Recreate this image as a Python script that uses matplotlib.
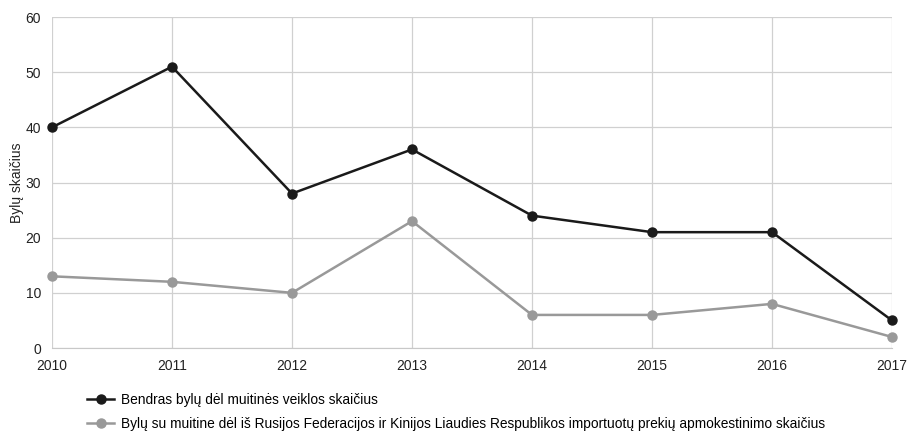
import matplotlib.pyplot as plt

plt.rcParams['font.family'] = ['Liberation Sans', 'DejaVu Sans']

years = [2010, 2011, 2012, 2013, 2014, 2015, 2016, 2017]
total_cases = [40, 51, 28, 36, 24, 21, 21, 5]
import_cases = [13, 12, 10, 23, 6, 6, 8, 2]

label_total = 'Bendras bylų dėl muitinės veiklos skaičius'
label_import = ('Bylų su muitine dėl iš Rusijos Federacijos ir Kinijos Liaudies '
                'Respublikos importuotų prekių apmokestinimo skaičius')

fig = plt.figure(figsize=(9.09, 4.32), dpi=100)
ax = fig.add_axes([0.0572, 0.1944, 0.9241, 0.7662])

ax.plot(years, total_cases, color='#1a1a1a', lw=1.8, marker='o', ms=6.5,
        label=label_total, clip_on=False, zorder=3)
ax.plot(years, import_cases, color='#999999', lw=1.8, marker='o', ms=6.5,
        label=label_import, clip_on=False, zorder=3)

ax.set_xlim(2010, 2017)
ax.set_ylim(0, 60)
ax.set_xticks(years)
ax.set_yticks(range(0, 61, 10))
ax.grid(True, color='#d0d0d0', lw=0.9)
ax.set_axisbelow(True)
for s in ['top', 'right', 'left']:
    ax.spines[s].set_visible(False)
ax.spines['bottom'].set_color('#c8c8c8')
ax.tick_params(length=0, labelsize=10, colors='#222222')
ax.tick_params(axis='x', pad=8)
ax.tick_params(axis='y', pad=8)
ax.set_ylabel('Bylų skaičius', fontsize=10, color='#222222', labelpad=1)

ax.legend(loc='upper left', bbox_to_anchor=(0.035, -0.118), frameon=False,
          fontsize=9.9, handlelength=2.0, handletextpad=0.45, labelspacing=0.75,
          borderaxespad=0)

fig.savefig('out.png', dpi=100)
